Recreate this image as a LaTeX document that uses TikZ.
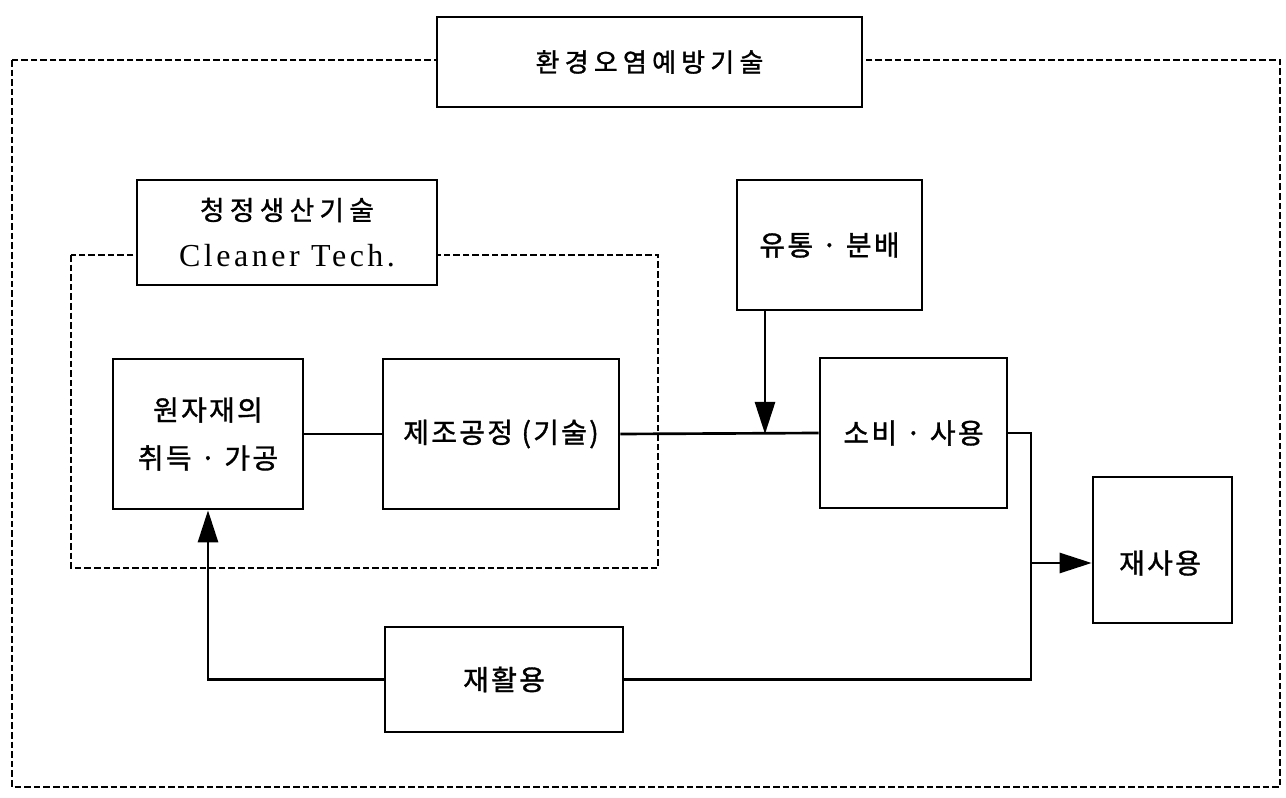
\documentclass[tikz,border=0pt]{standalone}
\usepackage{fontspec}
\setmainfont{Noto Sans CJK KR}
\newfontfamily\krt{Noto Sans CJK KR}[FakeBold=1.2, LetterSpace=20]
\newfontfamily\kr{Noto Sans CJK KR}[FakeBold=1.2, LetterSpace=8]
\newfontfamily\lat{Liberation Serif}[LetterSpace=11]
\usetikzlibrary{arrows.meta}
\tikzset{
  box/.style={draw, line width=2pt, fill=white, inner sep=0pt, align=center, font=\kr\fontsize{21}{30}\selectfont},
  dashbox/.style={draw, line width=1.5pt, dash pattern=on 5pt off 2.2pt},
  conn/.style={line width=2pt},
  arr/.style={line width=2pt, -{Triangle[length=24pt,width=15pt]}}
}
\begin{document}
\begin{tikzpicture}[x=0.75pt,y=-0.75pt]
\useasboundingbox (0,0) rectangle (1286,798);
% outer dashed frame
\draw[dashbox] (12,60) rectangle (1280,787);
\node[box, minimum width=318.75pt, minimum height=67.5pt, font=\krt\fontsize{19.5}{26}\selectfont] (title) at (649.5,62) {환경오염예방기술};
% inner dashed frame
\draw[dashbox] (71,255) rectangle (658,568);
\node[box, minimum width=225pt, minimum height=78.75pt, font=\krt\fontsize{20}{35}\selectfont] (clean) at (287,232.5) {청정생산기술\\{\lat\fontsize{24}{35}\selectfont Cleaner Tech.}};
% process boxes
\node[box, minimum width=142.5pt, minimum height=112.5pt, font=\kr\fontsize{21}{36}\selectfont] (won) at (208,434) {원자재의\\취득 · 가공};
\node[box, minimum width=177pt, minimum height=112.5pt] (jejo) at (501,434) {제조공정 (기술)};
\node[box, minimum width=138.75pt, minimum height=97.5pt] (yutong) at (829.5,245) {유통 · 분배};
\node[box, minimum width=140.25pt, minimum height=112.5pt] (sobi) at (913.5,433) {소비 · 사용};
\node[box, minimum width=104.25pt, minimum height=109.5pt] (jaesa) at (1162.5,550) {};
\node[font=\kr\fontsize{21}{26}\selectfont] (jaesat) at (1160,563) {재사용};
\node[box, minimum width=178.5pt, minimum height=78.75pt] (jh) at (504,679.5) {재활용};
% coordinates
\coordinate (m) at (765,434);
\coordinate (c1) at (1031,433);
\coordinate (c2) at (1031,679.5);
\coordinate (cb) at (1031,563);
\coordinate (lb) at (208,679.5);
% connectors
\draw[conn] (won.east) -- (jejo.west);
\draw[conn] (jejo.east) -- (sobi.west);
\draw[arr] (m |- yutong.south) -- (m);
\draw[conn] (sobi.east) -- (c1) -- (c2) -- (jh.east);
\draw[arr] (cb) -- (jaesa.west |- cb);
\draw[arr] (jh.west) -- (lb) -- (won.south);
\end{tikzpicture}
\end{document}
